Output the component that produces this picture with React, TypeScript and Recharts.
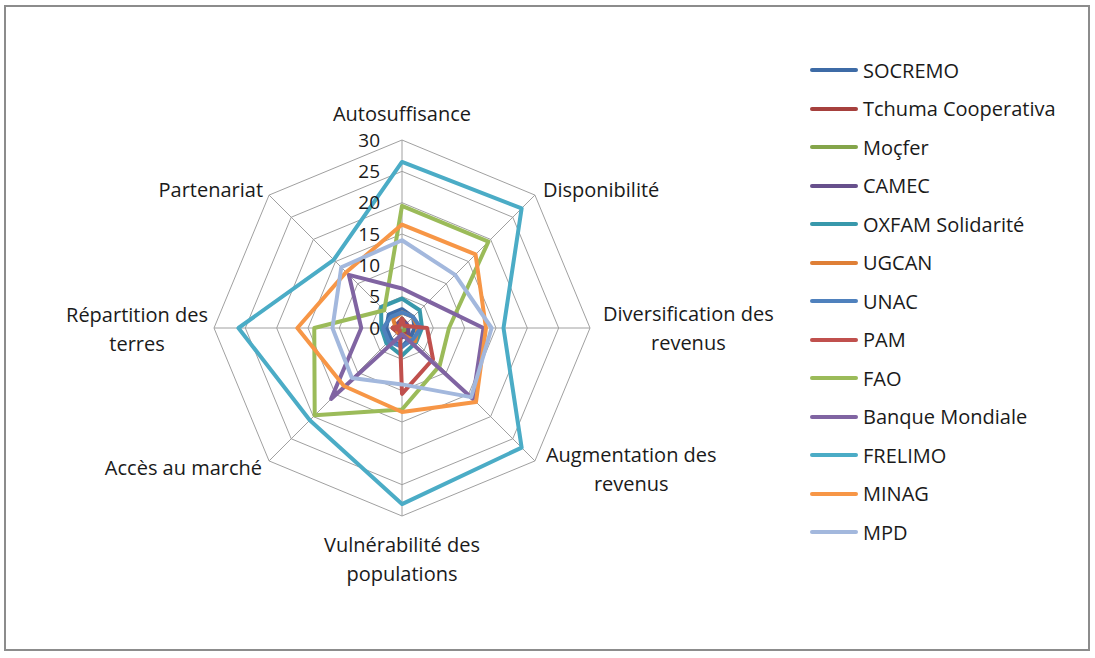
import React from "react";
import {
  RadarChart,
  PolarGrid,
  PolarAngleAxis,
  PolarRadiusAxis,
  Radar,
  Legend,
} from "recharts";

// axes of the spider chart (clockwise from the top)
const categories = [
  "Autosuffisance",
  "Disponibilité",
  "Diversification des revenus",
  "Augmentation des revenus",
  "Vulnérabilité des populations",
  "Accès au marché",
  "Répartition des terres",
  "Partenariat",
];

const socremo = [3, 2.5, 2, 2, 3, 2.5, 2.5, 3];
const tchuma = [1.5, 1, 1, 1, 1, 1, 1.5, 1];
const mocfer = [1.5, 0.5, 0.5, 0.5, 0.5, 0.5, 0.5, 0.5];
const camec = [1, 1, 1, 1.5, 1.5, 1, 1, 1];
const oxfam = [4.7, 4, 3.2, 3.2, 4.4, 3.5, 3.3, 4.7];
const ugcan = [2.5, 2.5, 2.5, 3, 1, 1, 1, 2];
const unac = [2.5, 2.5, 3, 2.5, 3, 3, 3, 2.5];
const pam = [1.5, 0.5, 4, 7, 10.5, 0.5, 1.5, 0.5];
const fao = [19.5, 19.5, 7.5, 8.5, 13, 19.7, 14, 4];
const banqueMondiale = [6.3, 6, 13, 16, 1, 16, 6.5, 12];
const frelimo = [26.5, 27, 16.2, 27, 28.1, 20.8, 26.1, 15.4];
const minag = [16.5, 16.6, 13.4, 16.7, 13.4, 13.1, 16.7, 12.6];
const mpd = [14, 12, 14.3, 15.6, 9, 11.3, 11.1, 13.7];

const radiusTicks = [0, 5, 10, 15, 20, 25, 30];

const series = [
  { name: "SOCREMO", values: socremo, color: "#3d6ba6" },
  { name: "Tchuma Cooperativa", values: tchuma, color: "#a6403d" },
  { name: "Moçfer", values: mocfer, color: "#84a54a" },
  { name: "CAMEC", values: camec, color: "#67508c" },
  { name: "OXFAM Solidarité", values: oxfam, color: "#3898ab" },
  { name: "UGCAN", values: ugcan, color: "#df7f36" },
  { name: "UNAC", values: unac, color: "#4f81bd" },
  { name: "PAM", values: pam, color: "#c0504d" },
  { name: "FAO", values: fao, color: "#9bbb59" },
  { name: "Banque Mondiale", values: banqueMondiale, color: "#8064a2" },
  { name: "FRELIMO", values: frelimo, color: "#4bacc6" },
  { name: "MINAG", values: minag, color: "#f79646" },
  { name: "MPD", values: mpd, color: "#a3b8dd" },
];

const data = categories.map((c, i) => {
  const row: any = { axis: c };
  series.forEach((s) => (row[s.name] = s.values[i]));
  return row;
});

const CX = 402;
const CY = 328;
const R = 188;
const FONT = '"Open Sans", sans-serif';
const FS = 20;
const LH = 29;

let ctx: CanvasRenderingContext2D | null = null;
const measure = (t: string) => {
  if (!ctx) ctx = document.createElement("canvas").getContext("2d");
  if (!ctx) return t.length * FS * 0.55;
  ctx.font = `${FS}px ${FONT}`;
  return ctx.measureText(t).width;
};

const splitLabel = (t: string) => {
  if (t.length <= 16) return [t];
  const k = t.lastIndexOf(" ");
  return [t.slice(0, k), t.slice(k + 1)];
};

const AngleTick = (props: any) => {
  const { payload } = props;
  const i = props.index ?? payload.index ?? categories.indexOf(payload.value);
  const rad = ((90 - i * 45) * Math.PI) / 180;
  const cos = Math.round(Math.cos(rad) * 1000) / 1000;
  const sin = Math.round(Math.sin(rad) * 1000) / 1000;
  const vx = CX + R * cos;
  const vy = CY - R * sin;
  const lines = splitLabel(String(payload.value));
  const w = Math.max(...lines.map(measure));
  let left = vx - w / 2;
  let first = vy;
  if (cos === 0) {
    first = sin > 0 ? vy - 26 : vy + 29;
  } else if (cos > 0) {
    if (sin > 0) { left = vx + 8; first = vy - 5; }
    else if (sin === 0) { left = vx + 13; first = vy - ((lines.length - 1) * LH) / 2; }
    else { left = vx + 11; first = vy - 6; }
  } else {
    if (sin > 0) { left = vx - 6 - w; first = vy - 5; }
    else if (sin === 0) { left = vx - 6 - w; first = vy + 1 - ((lines.length - 1) * LH) / 2; }
    else { left = vx - 7 - w; first = vy + 7; }
  }
  return (
    <g>
      {lines.map((l, k) => (
        <text
          key={k}
          x={left + w / 2}
          y={first + k * LH}
          dy="0.35em"
          textAnchor="middle"
          fontFamily={FONT}
          fontSize={FS}
          fill="#1a1a1a"
        >
          {l}
        </text>
      ))}
    </g>
  );
};

const RadiusTick = (props: any) => {
  const { y, payload } = props;
  return (
    <text
      x={CX - 22}
      y={y}
      dy="0.35em"
      textAnchor="end"
      fontFamily={FONT}
      fontSize={19}
      fill="#1a1a1a"
    >
      {payload.value}
    </text>
  );
};

const renderLegend = () => (
  <div>
    {series.map((s, k) => (
      <div
        key={s.name}
        style={{ position: "absolute", left: 0, top: k * 38.5, display: "flex", alignItems: "center", height: 24 }}
      >
        <svg width={50} height={8}>
          <line x1={2} y1={4} x2={46} y2={4} stroke={s.color} strokeWidth={4} strokeLinecap="round" />
        </svg>
        <span style={{ fontFamily: FONT, fontSize: FS, color: "#1a1a1a", marginLeft: 3, whiteSpace: "nowrap" }}>
          {s.name}
        </span>
      </div>
    ))}
  </div>
);

export default function App() {
  return (
    <div style={{ position: "absolute", left: 0, top: 0, width: 1095, height: 658, background: "#fff" }}>
      <div
        style={{
          position: "absolute",
          left: 4,
          top: 5,
          width: 1086,
          height: 646,
          border: "2px solid #8c8c8c",
          boxSizing: "border-box",
        }}
      />
      <div style={{ position: "absolute", left: 0, top: 0 }}>
        <RadarChart
          width={1095}
          height={658}
          data={data}
          cx={CX}
          cy={CY}
          outerRadius={R}
          margin={{ top: 0, right: 0, bottom: 0, left: 0 }}
        >
          <PolarGrid gridType="polygon" stroke="#a0a0a0" strokeWidth={1} />
          <PolarAngleAxis dataKey="axis" tick={<AngleTick />} tickLine={false} axisLine={false} />
          <PolarRadiusAxis
            angle={90}
            type="number"
            domain={[0, 30]}
            ticks={radiusTicks}
            tick={<RadiusTick />}
            axisLine={false}
            tickLine={false}
          />
          {series.map((s) => (
            <Radar
              key={s.name}
              name={s.name}
              dataKey={s.name}
              stroke={s.color}
              strokeWidth={4}
              strokeLinejoin="round"
              fill="none"
              fillOpacity={0}
              dot={false}
              isAnimationActive={false}
            />
          ))}
          <Legend
            content={renderLegend}
            wrapperStyle={{ position: "absolute", left: 810, top: 58, width: 280, height: 520 }}
          />
        </RadarChart>
      </div>
    </div>
  );
}
